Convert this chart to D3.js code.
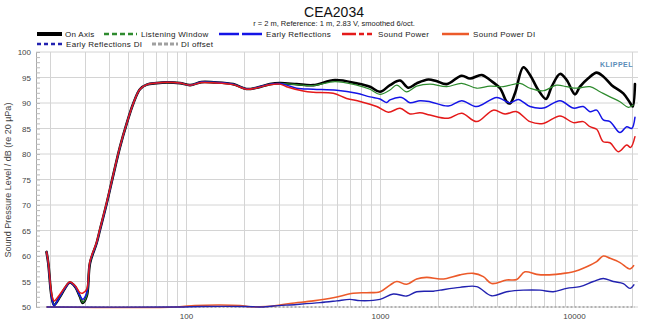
<!DOCTYPE html>
<html><head><meta charset="utf-8">
<script src="https://cdn.jsdelivr.net/npm/d3@7"></script>
<style>
html,body{margin:0;padding:0;background:#fff;}
svg{display:block;font-family:"Liberation Sans",Arial,sans-serif;}
</style></head>
<body><svg id="c" width="650" height="322"></svg>
<script>
// ---- data (frequency Hz, level dB) ----
const onAxis = [[19.1,60.8],[19.5,58.6],[20.3,52.0],[20.9,50.4],[22.4,52.0],[23.8,53.7],[25.2,54.8],[26.8,54.0],[28.4,52.0],[29.3,50.8],[30.8,52.2],[32.0,58.6],[34.6,62.5],[36.0,65.1],[39.0,70.3],[42.2,75.9],[45.7,81.4],[49.5,86.0],[53.5,89.9],[57.9,92.7],[62.8,93.6],[70.6,93.9],[79.5,94.05],[93,93.9],[105,93.5],[120,94.1],[139,94.05],[175,93.7],[205,92.75],[231,93.0],[271,93.7],[305,93.9],[372,93.7],[453,93.5],[586,94.5],[759,93.85],[888,93.2],[1000,92.2],[1126,93.5],[1268,94.4],[1400,93.0],[1546,93.85],[1774,94.6],[1950,94.3],[2207,93.7],[2637,95.35],[2910,94.8],[3343,95.5],[3690,94.5],[4156,92.9],[4499,90.25],[4679,89.9],[4965,91.9],[5480,97.0],[5933,95.5],[6546,92.55],[7172,90.8],[7675,93.2],[8472,95.7],[9170,94.5],[10120,91.7],[10737,93.2],[11850,94.85],[13090,95.95],[14157,95.2],[15646,93.5],[17955,91.9],[19440,90.05],[20070,89.3],[20620,93.7]];
const listeningWindow = [[19.1,60.8],[19.5,58.6],[20.3,52.0],[20.9,50.5],[22.4,52.0],[23.8,53.7],[25.2,54.8],[26.8,54.0],[28.4,52.0],[29.3,50.9],[30.8,52.2],[32.0,58.6],[34.6,62.5],[36.0,65.1],[39.0,70.3],[42.2,75.9],[45.7,81.4],[49.5,86.0],[53.5,89.9],[57.9,92.7],[62.8,93.6],[70.6,93.9],[79.5,94.05],[93,93.9],[105,93.5],[120,94.1],[139,94.05],[175,93.7],[205,92.75],[231,93.0],[271,93.7],[305,93.85],[372,93.6],[453,93.4],[586,94.2],[759,93.5],[888,92.7],[1000,91.7],[1126,92.55],[1219,93.5],[1373,92.2],[1546,93.3],[1810,93.7],[2207,93.2],[2637,93.85],[3151,92.9],[3690,93.3],[4321,93.2],[5268,93.85],[5933,92.9],[6946,92.4],[8144,93.5],[9170,93.2],[10325,92.9],[12090,93.2],[13614,92.2],[15335,91.2],[17270,90.25],[19054,89.15],[20213,89.6]];
const earlyReflections = [[19.1,60.8],[19.5,58.6],[20.3,52.0],[20.9,50.3],[22.4,52.1],[23.8,53.7],[25.2,54.8],[26.8,54.0],[28.4,52.2],[29.3,51.5],[30.8,52.8],[32.0,58.8],[34.6,62.5],[36.0,65.1],[39.0,70.3],[42.2,75.9],[45.7,81.4],[49.5,86.0],[53.5,89.9],[57.9,92.7],[62.8,93.6],[70.6,93.9],[79.5,94.05],[93,93.9],[105,93.5],[120,94.1],[139,94.05],[175,93.7],[205,92.75],[231,93.0],[271,93.7],[305,93.8],[330,93.5],[372,92.9],[453,92.7],[598,92.5],[759,91.9],[888,91.2],[1000,90.8],[1083,90.1],[1126,90.6],[1294,91.1],[1428,90.05],[1608,90.45],[1810,90.25],[2249,89.4],[2637,90.45],[3151,89.3],[3996,91.1],[4679,90.05],[5163,90.7],[5933,89.3],[6946,89.0],[8472,90.45],[9918,89.0],[11167,89.3],[12090,88.3],[13090,88.6],[14157,86.7],[15335,86.35],[17270,84.2],[18693,85.35],[19836,85.0],[20620,87.2]];
const soundPower = [[19.1,60.8],[19.5,58.8],[20.3,52.6],[20.9,51.2],[22.4,52.5],[23.8,53.9],[25.2,54.9],[26.8,54.2],[28.4,52.8],[29.3,52.7],[30.8,53.5],[32.0,59.0],[34.6,62.7],[36.0,65.3],[39.0,70.5],[42.2,76.0],[45.7,81.5],[49.5,86.0],[53.5,89.9],[57.9,92.7],[62.8,93.6],[70.6,93.9],[79.5,94.05],[93,93.9],[105,93.5],[120,94.0],[139,93.95],[175,93.6],[205,92.7],[231,92.95],[271,93.6],[305,93.7],[330,93.2],[402,92.35],[453,92.1],[574,91.9],[673,90.9],[789,90.3],[962,89.3],[1104,88.2],[1268,88.95],[1428,87.85],[1608,88.1],[1810,87.65],[2249,87.0],[2637,88.0],[3151,86.35],[3837,88.6],[4409,87.85],[5066,88.3],[5933,86.35],[6946,86.0],[8472,87.45],[9918,86.15],[11167,86.35],[12090,85.35],[13090,84.85],[14157,82.4],[15335,82.2],[16925,80.45],[18693,81.75],[19600,81.3],[20620,83.4]];
// directivity indices (dB), drawn on top of the DI offset
const diOffset = 50;
const soundPowerDI = [[19.1,0],[90,0],[111,0.3],[150,0.4],[190,0.3],[215,0.05],[260,0.1],[282,0.2],[344,0.7],[453,1.2],[574,1.8],[728,2.7],[854,2.8],[1000,3.0],[1126,4.3],[1219,5.0],[1373,4.45],[1546,5.5],[1741,5.8],[2039,5.5],[2207,5.6],[2585,6.3],[3026,6.6],[3409,5.95],[3765,4.6],[4499,5.3],[5066,5.4],[5590,6.9],[6423,6.4],[7232,6.3],[8472,6.5],[9918,6.9],[11630,7.9],[13090,8.9],[14157,10.0],[15335,9.55],[17270,8.7],[19440,7.45],[20380,8.2]];
const earlyReflectionsDI = [[19.1,0],[90,0],[120,0.1],[200,0.1],[250,0],[282,0.2],[372,0.5],[491,0.85],[598,1.2],[700,1.5],[789,1.25],[1000,1.5],[1171,2.55],[1373,2.15],[1546,3.0],[1883,3.1],[2039,3.3],[2585,3.85],[3151,4.0],[3765,2.2],[4499,3.0],[5480,3.3],[6678,3.3],[7822,3.0],[9170,3.65],[10737,4.0],[12580,5.0],[14157,5.6],[15947,5.0],[17955,4.6],[19440,3.65],[20450,4.45]];
const diOffsetLine = [[19.1,0],[20620,0]];

const yTicks = [50,55,60,65,70,75,80,85,90,95,100];
const xTickLabels = [100,1000,10000];
const xGrid = [20,30,40,50,60,70,80,90,100,200,300,400,500,600,700,800,900,1000,2000,3000,4000,5000,6000,7000,8000,9000,10000,20000];

const title = "CEA2034";
const subtitle = "r = 2 m,  Reference: 1 m, 2.83 V, smoothed 6/oct.";
const yLabel = "Sound Pressure Level / dB (re 20 µPa)";

// ---- drawing ----
const svg = d3.select("#c");
const L = 36, R = 638, T = 52, B = 307;
const x = d3.scaleLog().domain([16.86, 21380]).range([L, R]);
const y = d3.scaleLinear().domain([50, 100]).range([B, T]);

// grid
const g = svg.append("g");
g.selectAll("line.h").data(yTicks).join("line")
  .attr("x1", L).attr("x2", R).attr("y1", d => y(d)).attr("y2", d => y(d))
  .attr("stroke", "#d4d4d4").attr("stroke-width", 1);
g.selectAll("line.v").data(xGrid).join("line")
  .attr("x1", d => Math.round(x(d)) + 0.5).attr("x2", d => Math.round(x(d)) + 0.5)
  .attr("y1", T).attr("y2", B)
  .attr("stroke", "#d4d4d4").attr("stroke-width", 1);

// y axis
const yAxis = d3.axisLeft(y).tickValues(yTicks).tickSize(0).tickPadding(5);
const ya = svg.append("g").attr("transform", `translate(${L},0)`).call(yAxis);
ya.select(".domain").attr("stroke", "#aaa");
ya.selectAll("text").attr("font-size", 8).attr("fill", "#444").attr("font-family", "Liberation Sans, Arial, sans-serif");
const minor = d3.axisRight(y).tickValues(d3.range(50, 101, 1)).tickSize(4).tickFormat("");
const ym = svg.append("g").attr("transform", `translate(${L},0)`).call(minor);
ym.select(".domain").remove();
ym.selectAll("line").attr("stroke", "#bbb");

// x axis labels
const xAxis = d3.axisBottom(x).tickValues(xTickLabels).tickSize(0).tickPadding(6).tickFormat(d3.format("d"));
const xa = svg.append("g").attr("transform", `translate(0,${B})`).call(xAxis);
xa.select(".domain").remove();
xa.selectAll("text").attr("font-size", 8).attr("fill", "#444").attr("font-family", "Liberation Sans, Arial, sans-serif");

// curves
const line = d3.line().x(d => x(d[0])).y(d => y(d[1])).curve(d3.curveCatmullRom.alpha(0.5));
const diLine = d3.line().x(d => x(d[0])).y(d => y(diOffset + d[1])).curve(d3.curveCatmullRom.alpha(0.5));

svg.append("path").attr("d", diLine(diOffsetLine)).attr("fill", "none")
  .attr("stroke", "#a0a0a0").attr("stroke-width", 1.5).attr("stroke-dasharray", "2,2");
svg.append("path").attr("d", diLine(soundPowerDI)).attr("fill", "none")
  .attr("stroke", "#ec5a2a").attr("stroke-width", 1.6).attr("stroke-linejoin", "round");
svg.append("path").attr("d", diLine(earlyReflectionsDI)).attr("fill", "none")
  .attr("stroke", "#2222b0").attr("stroke-width", 1.4).attr("stroke-linejoin", "round");

const series = [
  {d: onAxis, c: "#000000", w: 2.6},
  {d: listeningWindow, c: "#2e8b2e", w: 1.2},
  {d: earlyReflections, c: "#1414e6", w: 1.5},
  {d: soundPower, c: "#e41a1a", w: 1.5}
];
series.forEach(s => {
  svg.append("path").attr("d", line(s.d)).attr("fill", "none")
    .attr("stroke", s.c).attr("stroke-width", s.w).attr("stroke-linejoin", "round").attr("stroke-linecap", "round");
});

// titles
svg.append("text").attr("x", 334).attr("y", 17).attr("text-anchor", "middle")
  .attr("font-size", 14).attr("fill", "#111").text(title);
svg.append("text").attr("x", 334).attr("y", 26).attr("text-anchor", "middle")
  .attr("font-size", 7.5).attr("fill", "#222").text(subtitle);
svg.append("text").attr("transform", "translate(11,180) rotate(-90)").attr("text-anchor", "middle")
  .attr("font-size", 9).attr("fill", "#444").text(yLabel);
svg.append("text").attr("x", 633).attr("y", 67).attr("text-anchor", "end")
  .attr("font-size", 7).attr("font-weight", "bold").attr("fill", "#5b8db8").attr("letter-spacing", 0.5).text("KLIPPEL");

// legend
const legend = [
  {t: "On Axis", x1: 37, x2: 62, tx: 65, y: 34, c: "#000", w: 4, dash: null},
  {t: "Listening Window", x1: 104, x2: 137, tx: 141, y: 34, c: "#2e8b2e", w: 2.5, dash: "5,3"},
  {t: "Early Reflections", x1: 219, x2: 262, tx: 266, y: 34, c: "#1414e6", w: 2.5, dash: "20,3"},
  {t: "Sound Power", x1: 342, x2: 375, tx: 378, y: 34, c: "#e41a1a", w: 2.5, dash: "14,3,5,3,5,3"},
  {t: "Sound Power DI", x1: 442, x2: 469, tx: 473, y: 34, c: "#ec5a2a", w: 2.5, dash: null},
  {t: "Early Reflections DI", x1: 37, x2: 62, tx: 66, y: 44, c: "#2222b0", w: 2.5, dash: "4,3"},
  {t: "DI offset", x1: 152, x2: 178, tx: 181, y: 44, c: "#a0a0a0", w: 3, dash: "4,2"}
];
const lg = svg.append("g");
legend.forEach(it => {
  lg.append("line").attr("x1", it.x1).attr("x2", it.x2).attr("y1", it.y).attr("y2", it.y)
    .attr("stroke", it.c).attr("stroke-width", it.w).attr("stroke-dasharray", it.dash);
  lg.append("text").attr("x", it.tx).attr("y", it.y + 3).attr("font-size", 8)
    .attr("letter-spacing", 0.3).attr("fill", "#222").text(it.t);
});
</script></body></html>
